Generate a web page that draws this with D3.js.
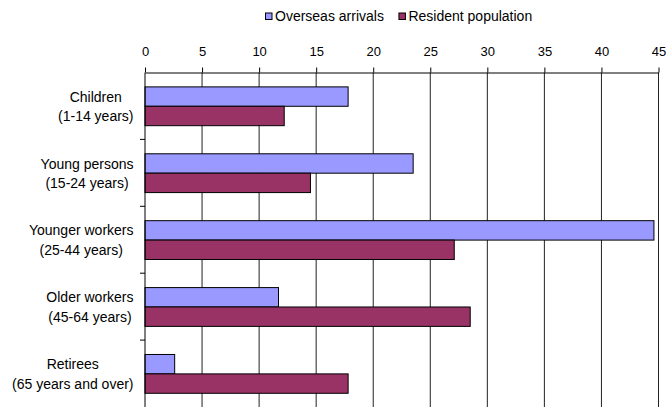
<!DOCTYPE html>
<html>
<head>
<meta charset="utf-8">
<script src="https://cdn.jsdelivr.net/npm/d3@7"></script>
<style>
  html, body { margin: 0; padding: 0; background: #fff; }
  svg { display: block; font-family: "Liberation Sans", Arial, sans-serif; }
</style>
</head>
<body>
<svg id="chart" width="668" height="407"></svg>
<script>
// Age groups (two-line labels) and share of each group, per cent
const categories = ["Children", "Young persons", "Younger workers", "Older workers", "Retirees"];
const categoryLines = [
  ["Children", "(1-14 years)"],
  ["Young persons", "(15-24 years)"],
  ["Younger workers", "(25-44 years)"],
  ["Older workers", "(45-64 years)"],
  ["Retirees", "(65 years and over)"]
];
const seriesNames = ["Overseas arrivals", "Resident population"];
const overseasArrivals = [17.8, 23.5, 44.6, 11.7, 2.6];
const residentPopulation = [12.2, 14.5, 27.1, 28.5, 17.8];
const tickValues = [0, 5, 10, 15, 20, 25, 30, 35, 40, 45];
const seriesColors = ["#9999FF", "#993366"];

const seriesValues = [overseasArrivals, residentPopulation];
const rows = categories.map((c, i) => ({
  category: c,
  values: seriesNames.map((s, j) => ({ series: s, value: seriesValues[j][i], color: seriesColors[j] }))
}));

const svg = d3.select("#chart");
const plotLeft = 145, plotRight = 658.5, plotTop = 72.5, plotBottom = 407;

const x = d3.scaleLinear().domain([0, 45]).range([plotLeft, plotRight]);
const y0 = d3.scaleBand().domain(categories).range([plotTop, plotBottom]).padding(0);
const bw = y0.bandwidth();
const y1 = d3.scaleBand().domain(seriesNames).range([bw * 0.215, bw * 0.795]).padding(0);

// vertical gridlines
svg.append("g")
  .selectAll("line")
  .data(tickValues.filter(v => v > 0))
  .join("line")
  .attr("x1", d => x(d)).attr("x2", d => x(d))
  .attr("y1", plotTop).attr("y2", plotBottom)
  .attr("stroke", "#222").attr("stroke-width", 1);

// bars
const groups = svg.append("g")
  .selectAll("g")
  .data(rows)
  .join("g")
  .attr("transform", d => `translate(0,${y0(d.category)})`);

groups.selectAll("rect")
  .data(d => d.values)
  .join("rect")
  .attr("x", x(0))
  .attr("y", d => y1(d.series))
  .attr("width", d => x(d.value) - x(0))
  .attr("height", y1.bandwidth())
  .attr("fill", d => d.color)
  .attr("stroke", "#000")
  .attr("stroke-width", 1);

// top value axis
const xAxis = d3.axisTop(x).tickValues(tickValues).tickSize(5).tickPadding(12).tickSizeOuter(0);
const gx = svg.append("g").attr("transform", `translate(0,${plotTop})`).call(xAxis);
gx.select(".domain").attr("stroke", "#000");
gx.selectAll(".tick line").attr("stroke", "#000");
gx.selectAll(".tick text")
  .attr("font-size", 13)
  .attr("fill", "#000")
  .attr("font-family", "Liberation Sans, Arial, sans-serif");

// left category axis: line plus tick marks between groups
svg.append("line")
  .attr("x1", plotLeft).attr("x2", plotLeft)
  .attr("y1", plotTop).attr("y2", plotBottom)
  .attr("stroke", "#000");
svg.append("g")
  .selectAll("line")
  .data(categories.slice(1))
  .join("line")
  .attr("x1", plotLeft - 5).attr("x2", plotLeft)
  .attr("y1", d => y0(d)).attr("y2", d => y0(d))
  .attr("stroke", "#000");

// category labels: block right-aligned, lines centred within the block
const labelRight = 133.5;
const labelG = svg.append("g")
  .attr("font-size", 14)
  .attr("fill", "#000");
categories.forEach((c, i) => {
  const lines = categoryLines[i];
  const cy = y0(c) + bw / 2;
  const texts = lines.map((ln, k) =>
    labelG.append("text")
      .attr("y", cy + 0.5 + (k - (lines.length - 1) / 2) * 19.5)
      .attr("dy", "0.35em")
      .attr("text-anchor", "middle")
      .text(ln)
  );
  const maxW = d3.max(texts, t => t.node().getComputedTextLength());
  texts.forEach(t => t.attr("x", labelRight - maxW / 2));
});

// legend
const legend = svg.append("g").attr("font-size", 14);
let lx = 265.5;
seriesNames.forEach((s, j) => {
  legend.append("rect")
    .attr("x", lx).attr("y", 13)
    .attr("width", 6.5).attr("height", 6.5)
    .attr("fill", seriesColors[j])
    .attr("stroke", "#000").attr("stroke-width", 1);
  const t = legend.append("text")
    .attr("x", lx + 9.5).attr("y", 16.5)
    .attr("dy", "0.35em")
    .attr("fill", "#000")
    .text(s);
  lx = lx + 9.5 + t.node().getComputedTextLength() + 15;
});
</script>
</body>
</html>
